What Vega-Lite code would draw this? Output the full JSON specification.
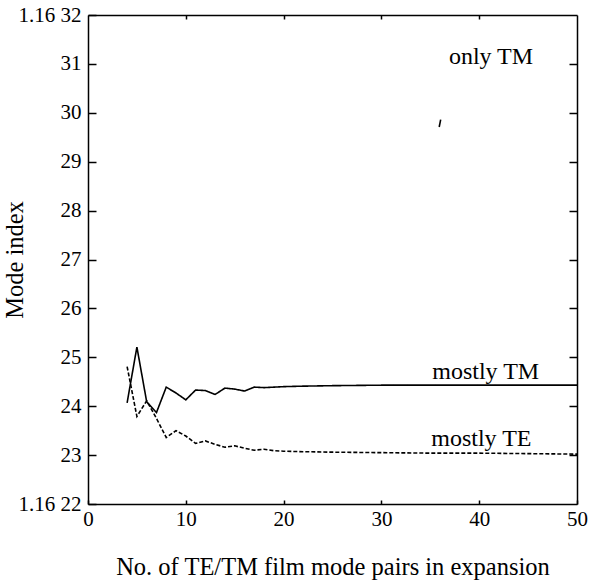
{
  "$schema": "https://vega.github.io/schema/vega-lite/v6.json",
  "width": 489,
  "height": 489,
  "autosize": {"type": "none"},
  "padding": {"left": 88, "top": 15, "right": 13, "bottom": 78},
  "background": "white",
  "config": {
    "view": {"stroke": null},
    "font": "Liberation Serif",
    "axis": {
      "grid": false,
      "domainColor": "black",
      "domainWidth": 1.5,
      "tickColor": "black",
      "tickWidth": 1.5,
      "labelColor": "black",
      "labelFont": "Liberation Serif",
      "labelFontSize": 21,
      "labelFlush": false,
      "titleFont": "Liberation Serif",
      "titleFontSize": 24.5,
      "titleFontWeight": "normal",
      "titleColor": "black"
    }
  },
  "datasets": {
    "lines": [
      {"series": "mostly TM", "n": 4, "index": 24.07},
      {"series": "mostly TM", "n": 5, "index": 25.21},
      {"series": "mostly TM", "n": 6, "index": 24.09},
      {"series": "mostly TM", "n": 7, "index": 23.87},
      {"series": "mostly TM", "n": 8, "index": 24.39},
      {"series": "mostly TM", "n": 9, "index": 24.27},
      {"series": "mostly TM", "n": 10, "index": 24.13},
      {"series": "mostly TM", "n": 11, "index": 24.33},
      {"series": "mostly TM", "n": 12, "index": 24.32},
      {"series": "mostly TM", "n": 13, "index": 24.24},
      {"series": "mostly TM", "n": 14, "index": 24.37},
      {"series": "mostly TM", "n": 15, "index": 24.35},
      {"series": "mostly TM", "n": 16, "index": 24.31},
      {"series": "mostly TM", "n": 17, "index": 24.39},
      {"series": "mostly TM", "n": 18, "index": 24.38},
      {"series": "mostly TM", "n": 19, "index": 24.39},
      {"series": "mostly TM", "n": 20, "index": 24.40},
      {"series": "mostly TM", "n": 22, "index": 24.41},
      {"series": "mostly TM", "n": 25, "index": 24.42},
      {"series": "mostly TM", "n": 30, "index": 24.43},
      {"series": "mostly TM", "n": 35, "index": 24.43},
      {"series": "mostly TM", "n": 40, "index": 24.43},
      {"series": "mostly TM", "n": 45, "index": 24.43},
      {"series": "mostly TM", "n": 50, "index": 24.43},
      {"series": "mostly TE", "n": 4, "index": 24.81},
      {"series": "mostly TE", "n": 5, "index": 23.79},
      {"series": "mostly TE", "n": 6, "index": 24.11},
      {"series": "mostly TE", "n": 7, "index": 23.75},
      {"series": "mostly TE", "n": 8, "index": 23.36},
      {"series": "mostly TE", "n": 9, "index": 23.50},
      {"series": "mostly TE", "n": 10, "index": 23.39},
      {"series": "mostly TE", "n": 11, "index": 23.24},
      {"series": "mostly TE", "n": 12, "index": 23.29},
      {"series": "mostly TE", "n": 13, "index": 23.22},
      {"series": "mostly TE", "n": 14, "index": 23.16},
      {"series": "mostly TE", "n": 15, "index": 23.19},
      {"series": "mostly TE", "n": 16, "index": 23.14},
      {"series": "mostly TE", "n": 17, "index": 23.10},
      {"series": "mostly TE", "n": 18, "index": 23.12},
      {"series": "mostly TE", "n": 19, "index": 23.09},
      {"series": "mostly TE", "n": 20, "index": 23.08},
      {"series": "mostly TE", "n": 22, "index": 23.07},
      {"series": "mostly TE", "n": 25, "index": 23.06},
      {"series": "mostly TE", "n": 30, "index": 23.05},
      {"series": "mostly TE", "n": 35, "index": 23.04},
      {"series": "mostly TE", "n": 40, "index": 23.04},
      {"series": "mostly TE", "n": 45, "index": 23.03},
      {"series": "mostly TE", "n": 50, "index": 23.02},
      {"series": "only TM", "n": 35.91, "index": 29.71},
      {"series": "only TM", "n": 36.06, "index": 29.86}
    ],
    "labels": [
      {"label": "only TM", "n": 36.9, "index": 31.0},
      {"label": "mostly TM", "n": 35.2, "index": 24.56},
      {"label": "mostly TE", "n": 35.1, "index": 23.19}
    ]
  },
  "layer": [
    {
      "data": {"name": "lines"},
      "mark": {"type": "line", "color": "black", "strokeWidth": 1.6},
      "encoding": {
        "x": {
          "field": "n", "type": "quantitative",
          "scale": {"domain": [0, 50], "nice": false},
          "axis": {
            "orient": "bottom",
            "values": [0, 10, 20, 30, 40, 50],
            "tickSize": -4,
            "labelPadding": 8,
            "title": "No. of TE/TM film mode pairs in expansion",
            "titleY": 63,
            "titleBaseline": "middle"
          }
        },
        "y": {
          "field": "index", "type": "quantitative",
          "scale": {"domain": [22, 32], "nice": false, "zero": false},
          "axis": {
            "orient": "left",
            "values": [22, 23, 24, 25, 26, 27, 28, 29, 30, 31, 32],
            "labelExpr": "datum.value == 32 ? '1.16 32' : datum.value == 22 ? '1.16 22' : datum.label",
            "tickSize": -8,
            "labelPadding": 15,
            "title": "Mode index",
            "titleX": -73,
            "titleBaseline": "middle"
          }
        },
        "detail": {"field": "series", "type": "nominal"},
        "strokeDash": {
          "field": "series", "type": "nominal",
          "scale": {"domain": ["mostly TM", "mostly TE", "only TM"], "range": [[1, 0], [4, 2], [1, 0]]},
          "legend": null
        }
      }
    },
    {
      "data": {"name": "labels"},
      "mark": {"type": "text", "align": "left", "baseline": "alphabetic", "fontSize": 24, "font": "Liberation Serif", "color": "black"},
      "encoding": {
        "x": {
          "field": "n", "type": "quantitative",
          "scale": {"domain": [0, 50], "nice": false},
          "axis": {"orient": "top", "values": [10, 20, 30, 40], "tickSize": -4, "labels": false, "title": null}
        },
        "y": {
          "field": "index", "type": "quantitative",
          "scale": {"domain": [22, 32], "nice": false, "zero": false},
          "axis": {"orient": "right", "values": [23, 24, 25, 26, 27, 28, 29, 30, 31], "tickSize": -8, "labels": false, "title": null}
        },
        "text": {"field": "label"}
      }
    }
  ],
  "resolve": {"axis": {"x": "independent", "y": "independent"}}
}
